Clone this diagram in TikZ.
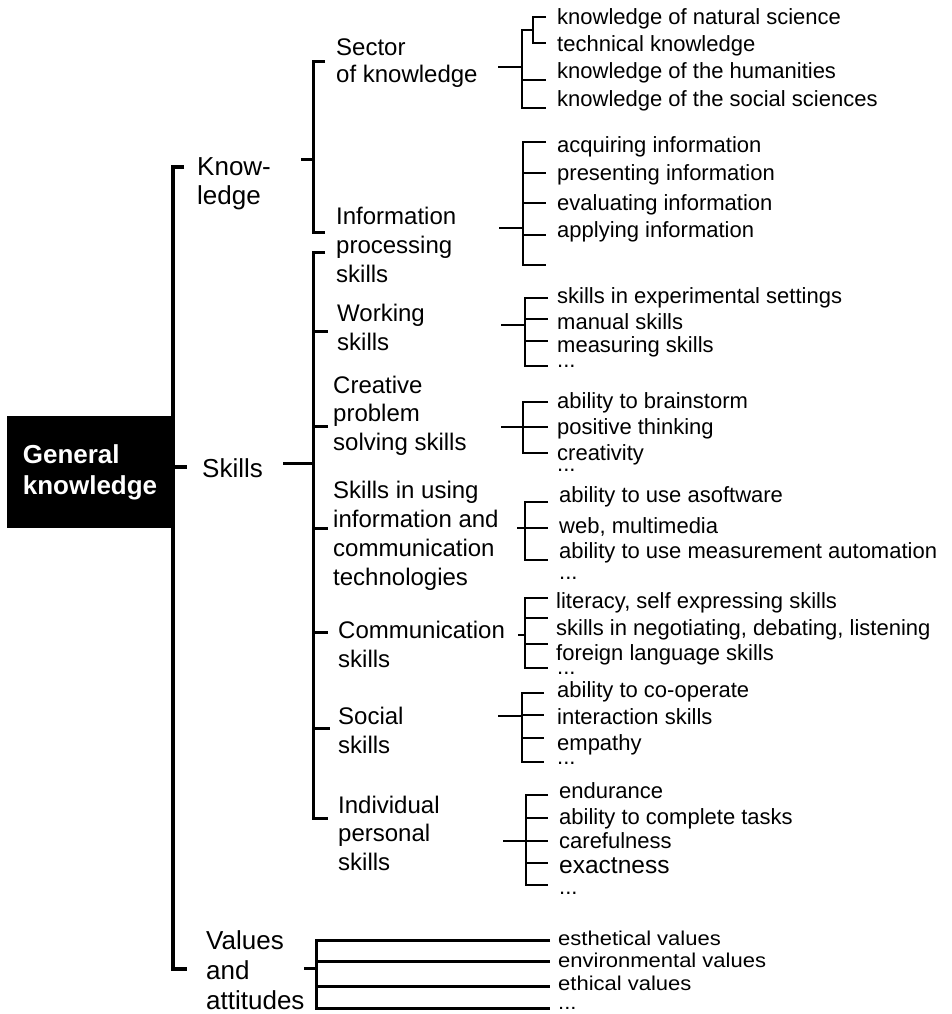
\documentclass[tikz,border=0pt]{standalone}
\usepackage{fontspec}
\setmainfont{Liberation Sans}
\newfontfamily\widefont[FakeStretch=1.1]{Liberation Sans}
\begin{document}
\begin{tikzpicture}[x=1pt,y=-1pt,
  item/.style={anchor=base west, inner sep=0pt, font=\fontsize{22}{26}\selectfont},
  vitem/.style={anchor=base west, inner sep=0pt, font=\widefont\fontsize{20}{23}\selectfont},
  lab/.style={anchor=base west, inner sep=0pt, align=left, font=\fontsize{24}{29}\selectfont},
  mainlab/.style={anchor=base west, inner sep=0pt, align=left, font=\fontsize{26}{30}\selectfont},
  bar/.style={line width=4.5pt},
  br/.style={line width=3pt},
  tw/.style={line width=2.5pt}]
\useasboundingbox (0,0) rectangle (951,1014);

% root box
\node[fill=black, text=white, minimum width=166pt, minimum height=112pt, inner sep=0pt,
  align=left, font=\bfseries\fontsize{26}{31}\selectfont] (gk) at (90,472) {General\\knowledge};

% main bar
\draw[bar] (184,167) -- (173,167) -- (173,969) -- (187,969);
\draw[bar] (173,467) -- (187,467);

% main labels (anchor = baseline of last line)
\node[mainlab, font=\fontsize{26}{29}\selectfont] (know) at (197,204) {Know-\\ledge};
\node[mainlab] (skills) at (202,477) {Skills};
\node[mainlab, font=\fontsize{26}{30}\selectfont] (values) at (206,1009) {Values\\and\\attitudes};

% knowledge bracket
\draw[br] (325,62) -- (313,62) -- (313,232) -- (325,232);
\draw[br] (301,159) -- (313,159);
% skills bracket
\draw[br] (325,252) -- (313,252) -- (313,818) -- (328,818);
\draw[br] (313,331) -- (328,331);
\draw[br] (313,426) -- (328,426);
\draw[br] (313,528) -- (328,528);
\draw[br] (313,632) -- (328,632);
\draw[br] (313,728) -- (330,728);
\draw[br] (283,463) -- (313,463);
% values bracket
\draw[br] (304,968) -- (316,968);
\draw[br] (550,940) -- (316,940) -- (316,1008) -- (550,1008);
\draw[br] (316,961) -- (550,961);
\draw[br] (316,986) -- (550,986);

% second level labels (anchor = baseline of last line)
\node[lab, font=\fontsize{24}{27}\selectfont] (sector) at (336,83) {Sector\\of knowledge};
\node[lab] (info) at (336,282) {Information\\processing\\skills};
\node[lab] (work) at (337,350) {Working\\skills};
\node[lab, font=\fontsize{24}{28.5}\selectfont] (creat) at (333,450) {Creative\\problem\\solving skills};
\node[lab] (ict) at (333,585) {Skills in using\\information and\\communication\\technologies};
\node[lab] (comm) at (338,667) {Communication\\skills};
\node[lab] (soc) at (338,753) {Social\\skills};
\node[lab, font=\fontsize{24}{28.5}\selectfont] (indiv) at (338,870) {Individual\\personal\\skills};

% sector children
\draw[tw] (546,17) -- (533,17) -- (533,43) -- (546,43);
\draw[tw] (533,30) -- (522,30) -- (522,108) -- (546,108);
\draw[tw] (522,80) -- (546,80);
\draw[tw] (498,67) -- (522,67);
\node[item] (s1) at (557,25) {knowledge of natural science};
\node[item] (s2) at (557,52) {technical knowledge};
\node[item] (s3) at (557,79) {knowledge of the humanities};
\node[item] (s4) at (557,107) {knowledge of the social sciences};

% information children
\draw[tw] (546,142) -- (523,142) -- (523,265) -- (546,265);
\draw[tw] (523,173) -- (546,173);
\draw[tw] (523,203) -- (546,203);
\draw[tw] (523,235) -- (546,235);
\draw[tw] (499,228) -- (523,228);
\node[item] (i1) at (557,152) {acquiring information};
\node[item] (i2) at (557,180) {presenting information};
\node[item] (i3) at (557,210) {evaluating information};
\node[item] (i4) at (557,237) {applying information};

% working children
\draw[tw] (548,298) -- (525,298) -- (525,366) -- (548,366);
\draw[tw] (525,319) -- (548,319);
\draw[tw] (525,341) -- (548,341);
\draw[tw] (501,325) -- (525,325);
\node[item] (w1) at (557,303) {skills in experimental settings};
\node[item] (w2) at (557,329) {manual skills};
\node[item] (w3) at (557,352) {measuring skills};
\node[item] (w4) at (557,367) {...};

% creative children
\draw[tw] (548,402) -- (523,402) -- (523,453) -- (548,453);
\draw[tw] (501,427) -- (548,427);
\node[item] (c1) at (557,408) {ability to brainstorm};
\node[item] (c2) at (557,434) {positive thinking};
\node[item] (c3) at (557,460) {creativity};
\node[item] (c4) at (557,471) {...};

% ICT children
\draw[tw] (548,502) -- (525,502) -- (525,560) -- (548,560);
\draw[tw] (517,528) -- (548,528);
\node[item] (t1) at (559,502) {ability to use asoftware};
\node[item] (t2) at (559,533) {web, multimedia};
\node[item] (t3) at (559,558) {ability to use measurement automation};
\node[item] (t4) at (559,579) {...};

% communication children
\draw[tw] (548,598) -- (525,598) -- (525,668) -- (548,668);
\draw[tw] (525,618) -- (548,618);
\draw[tw] (525,644) -- (548,644);
\draw[tw] (518,635) -- (525,635);
\node[item] (m1) at (556,608) {literacy, self expressing skills};
\node[item] (m2) at (556,635) {skills in negotiating, debating, listening};
\node[item] (m3) at (556,660) {foreign language skills};
\node[item] (m4) at (557,674) {...};

% social children
\draw[tw] (544,693) -- (522,693) -- (522,762) -- (544,762);
\draw[tw] (522,715) -- (544,715);
\draw[tw] (522,738) -- (544,738);
\draw[tw] (498,716) -- (522,716);
\node[item] (o1) at (557,697) {ability to co-operate};
\node[item] (o2) at (557,724) {interaction skills};
\node[item] (o3) at (557,750) {empathy};
\node[item] (o4) at (557,764) {...};

% individual children
\draw[tw] (548,795) -- (526,795) -- (526,885) -- (548,885);
\draw[tw] (526,818) -- (548,818);
\draw[tw] (503,841) -- (548,841);
\draw[tw] (526,863) -- (548,863);
\node[item] (p1) at (559,798) {endurance};
\node[item] (p2) at (559,824) {ability to complete tasks};
\node[item] (p3) at (559,848) {carefulness};
\node[item, font=\fontsize{24.5}{28}\selectfont] (p4) at (559,873) {exactness};
\node[item] (p5) at (559,894) {...};

% values children
\node[vitem] (v1) at (558,945) {esthetical values};
\node[vitem] (v2) at (558,967) {environmental values};
\node[vitem] (v3) at (558,990) {ethical values};
\node[vitem] (v4) at (558,1009) {...};
\end{tikzpicture}
\end{document}
